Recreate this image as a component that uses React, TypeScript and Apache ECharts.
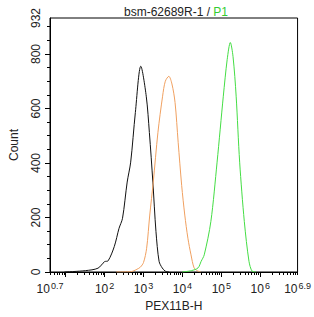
import React, { useEffect, useRef } from "react";
import * as echarts from "echarts";

// x values are log10 of intensity
const blackX = [0.97, 1.51, 1.83, 2.0, 2.09, 2.25, 2.37, 2.46, 2.58, 2.67, 2.79, 2.93, 3.07, 3.15, 3.24, 3.32, 3.4, 3.48, 3.56, 3.66];
const blackY = [0, 5, 14, 38, 41, 94, 160, 197, 330, 403, 585, 755, 645, 512, 330, 148, 39, 15, 3, 0];

const orangeX = [2.3, 2.67, 2.83, 2.92, 3.0, 3.08, 3.16, 3.25, 3.37, 3.49, 3.56, 3.65, 3.73, 3.81, 3.89, 3.98, 4.06, 4.14, 4.22, 4.3, 4.39, 4.47];
const orangeY = [0, 1, 10, 18, 35, 87, 209, 330, 512, 645, 700, 718, 690, 622, 476, 318, 209, 124, 63, 15, 4, 0];

const greenX = [3.99, 4.23, 4.4, 4.48, 4.56, 4.73, 4.89, 5.05, 5.15, 5.23, 5.3, 5.38, 5.47, 5.59, 5.71, 5.79, 5.89];
const greenY = [0, 5, 15, 39, 63, 185, 403, 645, 780, 842, 790, 645, 403, 185, 39, 3, 0];

const xEndLabels = ["0.7", "6.9"];
const xMajorTicks = [1, 2, 3, 4, 5, 6];
const xDecadeLabels = [2, 3, 4, 5, 6];
const yLabels = [0, 200, 400, 600, 800, 932];
const yMajorTicks = [0, 200, 400, 600, 800];

const X_MIN = 0.597;
const X_MAX = 6.958;
const Y_MAX = 932;

function zip(xs: number[], ys: number[]) {
  return xs.map((x, i) => [x, ys[i]]);
}

function minorLogTicks(): number[] {
  const out: number[] = [];
  for (let n = 0; n <= 6; n++) {
    for (let k = 2; k <= 9; k++) {
      const v = n + Math.log10(k);
      if (v > X_MIN && v < X_MAX) out.push(v);
    }
  }
  return out;
}

function yMinor(): number[] {
  const out: number[] = [];
  for (let v = 50; v < Y_MAX; v += 50) if (v % 200 !== 0) out.push(v);
  return out;
}

export default function App() {
  const ref = useRef<HTMLDivElement>(null);
  useEffect(() => {
    document.body.style.margin = "0";
    const chart = echarts.init(ref.current!, null, { renderer: "svg" });
    const font = "Liberation Sans";
    const fmtX = (v: number) => {
      let e: string;
      if (Math.abs(v - X_MIN) < 1e-6) e = xEndLabels[0];
      else if (Math.abs(v - X_MAX) < 1e-6) e = xEndLabels[1];
      else e = String(Math.round(v));
      return `{b|10}{s|${e}}`;
    };
    chart.setOption({
      animation: false,
      backgroundColor: "#fff",
      title: {
        text: "{k|bsm-62689R-1 / }{g|P1}",
        left: 171,
        textAlign: "center",
        top: 1,
        textStyle: {
          fontWeight: "normal",
          rich: {
            k: { fontFamily: font, fontSize: 12, color: "#222", fontWeight: "normal" },
            g: { fontFamily: font, fontSize: 12, color: "#33cc33", fontWeight: "normal" },
          },
        },
      },
      grid: {
        left: 43,
        right: 14,
        top: 18,
        bottom: 43,
        show: true,
        borderColor: "#000",
        borderWidth: 1,
        containLabel: false,
      },
      xAxis: [
        {
          type: "value",
          min: X_MIN,
          max: X_MAX,
          name: "PEX11B-H",
          nameLocation: "middle",
          nameGap: 28,
          nameTextStyle: { fontFamily: font, fontSize: 12, color: "#222" },
          axisLine: { show: true, lineStyle: { color: "#000" } },
          splitLine: { show: false },
          axisTick: { show: true, customValues: xMajorTicks, length: 5, lineStyle: { color: "#000" } },
          axisLabel: {
            customValues: [X_MIN, ...xDecadeLabels, X_MAX],
            formatter: fmtX,
            margin: 9,
            rich: {
              b: { fontFamily: font, fontSize: 12, color: "#222" },
              s: { fontFamily: font, fontSize: 9, color: "#222", verticalAlign: "top", padding: [0, 0, 6, 1] },
            },
          },
        },
        {
          type: "value",
          min: X_MIN,
          max: X_MAX,
          position: "bottom",
          axisLine: { show: false },
          splitLine: { show: false },
          axisTick: { show: true, customValues: minorLogTicks(), length: 3, lineStyle: { color: "#000" } },
          axisLabel: { show: false },
        },
      ],
      yAxis: [
        {
          type: "value",
          min: 0,
          max: Y_MAX,
          name: "Count",
          nameLocation: "middle",
          nameGap: 30,
          nameTextStyle: { fontFamily: font, fontSize: 12, color: "#222" },
          axisLine: { show: true, lineStyle: { color: "#000" } },
          splitLine: { show: false },
          axisTick: { show: true, customValues: yMajorTicks, length: 5, lineStyle: { color: "#000" } },
          axisLabel: {
            customValues: yLabels,
            rotate: 90,
            margin: 8,
            fontFamily: font,
            fontSize: 12,
            color: "#222",
          },
        },
        {
          type: "value",
          min: 0,
          max: Y_MAX,
          position: "left",
          axisLine: { show: false },
          splitLine: { show: false },
          axisTick: { show: true, customValues: yMinor(), length: 3, lineStyle: { color: "#000" } },
          axisLabel: { show: false },
        },
      ],
      series: [
        {
          type: "line",
          data: zip(blackX, blackY),
          smooth: 0.3,
          showSymbol: false,
          lineStyle: { color: "#111", width: 1 },
        },
        {
          type: "line",
          data: zip(orangeX, orangeY),
          smooth: 0.3,
          showSymbol: false,
          lineStyle: { color: "#f0a060", width: 1 },
        },
        {
          type: "line",
          data: zip(greenX, greenY),
          smooth: 0.3,
          showSymbol: false,
          lineStyle: { color: "#44dd44", width: 1 },
        },
      ],
    });
    return () => chart.dispose();
  }, []);
  return <div ref={ref} style={{ width: 314, height: 317 }} />;
}
